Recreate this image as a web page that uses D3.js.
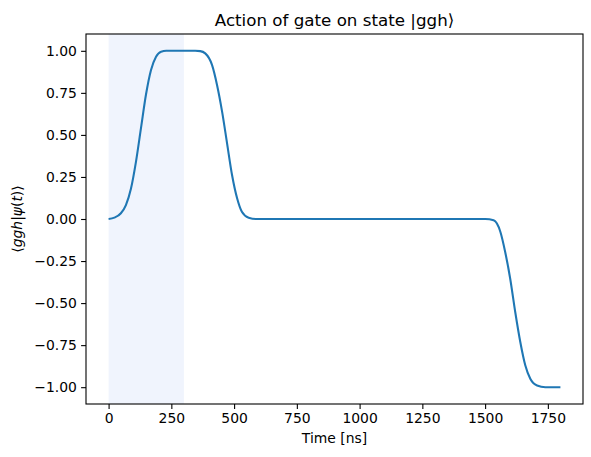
<!DOCTYPE html>
<html>
<head>
<meta charset="utf-8">
<script src="https://cdn.jsdelivr.net/npm/d3@7"></script>
<style>
  body { margin: 0; background: #fff; }
  svg { font-family: "DejaVu Sans", sans-serif; }
</style>
</head>
<body>
<svg id="chart" width="591" height="457"></svg>
<script>
// time samples (ns)
const times = [0, 23, 49, 69, 89, 109, 129, 149, 169, 189, 209, 230, 345, 365, 385, 412, 432, 452, 472, 492, 512, 531, 558, 591, 1000, 1501, 1534, 1561, 1580, 1600, 1620, 1640, 1660, 1680, 1707, 1740, 1800];
// <ggh|psi(t)> at those times
const amps = [0, 0.008, 0.034, 0.083, 0.18, 0.34, 0.54, 0.74, 0.886, 0.965, 0.995, 1.0, 1.0, 0.998, 0.985, 0.916, 0.797, 0.64, 0.45, 0.26, 0.123, 0.043, 0.008, 0, 0, 0, -0.008, -0.077, -0.196, -0.355, -0.553, -0.73, -0.87, -0.95, -0.99, -1.0, -1.0];
// shaded gate window
const gateWindow = [0, 300];
const xTicks = [0, 250, 500, 750, 1000, 1250, 1500, 1750];
const yTicks = [-1.0, -0.75, -0.5, -0.25, 0, 0.25, 0.5, 0.75, 1.0];

const width = 591, height = 457;
const margin = {top: 34, right: 8, bottom: 53, left: 86};
const w = width - margin.left - margin.right;
const h = height - margin.top - margin.bottom;

const svg = d3.select("#chart");
const g = svg.append("g").attr("transform", "translate(" + margin.left + "," + margin.top + ")");

const x = d3.scaleLinear().domain([-90, 1890]).range([0, w]);
const y = d3.scaleLinear().domain([-1.1, 1.1]).range([h, 0]);

// shaded region
g.append("rect")
    .attr("x", x(gateWindow[0]))
    .attr("y", 0)
    .attr("width", x(gateWindow[1]) - x(gateWindow[0]))
    .attr("height", h)
    .style("fill", "#f0f4fd");

const data = times.map(function(t, i) { return {t: t, v: amps[i]}; });

const line = d3.line()
    .x(function(d) { return x(d.t); })
    .y(function(d) { return y(d.v); })
    .curve(d3.curveMonotoneX);

g.append("path")
    .datum(data)
    .attr("d", line)
    .style("fill", "none")
    .style("stroke", "#1f77b4")
    .style("stroke-width", 2.08);

const fmtY = function(d) { return d3.format(".2f")(d).replace("-", "\u2212"); };

const xAxis = d3.axisBottom(x).tickValues(xTicks).tickFormat(d3.format("d")).tickSize(4.9).tickSizeOuter(0).tickPadding(4.2);
const yAxis = d3.axisLeft(y).tickValues(yTicks).tickFormat(fmtY).tickSize(4.9).tickSizeOuter(0).tickPadding(4.2);

const gX = g.append("g").attr("transform", "translate(0," + h + ")").call(xAxis);
const gY = g.append("g").call(yAxis);

[gX, gY].forEach(function(a) {
    a.select(".domain").remove();
    a.selectAll(".tick line").style("stroke", "#000").style("stroke-width", 1.1);
    a.selectAll(".tick text")
        .style("font-family", "DejaVu Sans")
        .style("font-size", "13.9px")
        .style("fill", "#000");
});

// frame
g.append("rect")
    .attr("width", w)
    .attr("height", h)
    .style("fill", "none")
    .style("stroke", "#000")
    .style("stroke-width", 1.1);

// title
svg.append("text")
    .attr("x", margin.left + w / 2)
    .attr("y", 26)
    .attr("text-anchor", "middle")
    .style("font-size", "16.7px")
    .text("Action of gate on state |ggh\u27e9");

// x label
svg.append("text")
    .attr("x", margin.left + w / 2)
    .attr("y", 443)
    .attr("text-anchor", "middle")
    .style("font-size", "13.9px")
    .text("Time [ns]");

// y label (mathtext style)
const yl = svg.append("text")
    .attr("transform", "translate(22," + (margin.top + h / 2) + ") rotate(-90)")
    .attr("text-anchor", "middle")
    .style("font-size", "13.9px");
yl.append("tspan").text("\u27e8");
yl.append("tspan").style("font-style", "italic").text("ggh");
yl.append("tspan").text("|");
yl.append("tspan").style("font-style", "italic").text("\u03c8");
yl.append("tspan").text("(");
yl.append("tspan").style("font-style", "italic").text("t");
yl.append("tspan").text(")\u27e9");
</script>
</body>
</html>
